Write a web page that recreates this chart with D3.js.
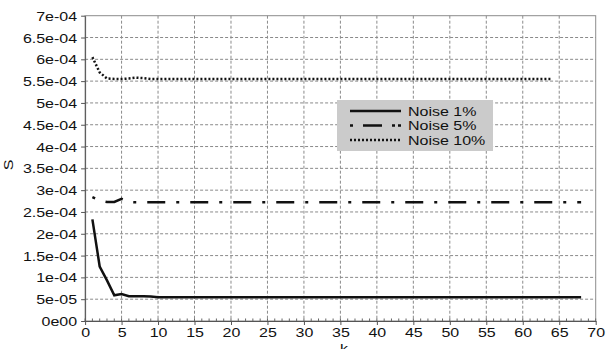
<!DOCTYPE html>
<html lang="en">
<head>
<meta charset="UTF-8">
<title>S vs k</title>
<style>
body { margin: 0; background: #fff; }
text { font-family: "Liberation Sans", Arial, sans-serif; fill: #111; }
.grid line { stroke: #8a8a8a; stroke-width: 1; stroke-dasharray: 3,2; }
.series { fill: none; stroke: #111; }
</style>
</head>
<body>
<script src="https://cdn.jsdelivr.net/npm/d3@7"></script>
<script>
// values of S are in units of 1e-4
var kNoise1 = [1,2,3,4,5,6,7,8,9,10,11,12,13,14,15,16,17,18,19,20,21,22,23,24,25,26,27,28,29,30,31,32,33,34,35,36,37,38,39,40,41,42,43,44,45,46,47,48,49,50,51,52,53,54,55,56,57,58,59,60,61,62,63,64,65,66,67,68];
var sNoise1 = [2.33,1.25,0.93,0.59,0.62,0.57,0.565,0.565,0.56,0.545,0.545,0.545,0.545,0.545,0.545,0.545,0.545,0.545,0.545,0.545,0.545,0.545,0.545,0.545,0.545,0.545,0.545,0.545,0.545,0.545,0.545,0.545,0.545,0.545,0.545,0.545,0.545,0.545,0.545,0.545,0.545,0.545,0.545,0.545,0.545,0.545,0.545,0.545,0.545,0.545,0.545,0.545,0.545,0.545,0.545,0.545,0.545,0.545,0.545,0.545,0.545,0.545,0.545,0.545,0.545,0.545,0.545,0.545];
var kNoise5 = [1,2,3,4,5,6,7,8,9,10,11,12,13,14,15,16,17,18,19,20,21,22,23,24,25,26,27,28,29,30,31,32,33,34,35,36,37,38,39,40,41,42,43,44,45,46,47,48,49,50,51,52,53,54,55,56,57,58,59,60,61,62,63,64,65,66,67,68];
var sNoise5 = [2.84,2.76,2.73,2.73,2.80,2.73,2.72,2.72,2.72,2.72,2.72,2.72,2.72,2.72,2.72,2.72,2.72,2.72,2.72,2.72,2.72,2.72,2.72,2.72,2.72,2.72,2.72,2.72,2.72,2.72,2.72,2.72,2.72,2.72,2.72,2.72,2.72,2.72,2.72,2.72,2.72,2.72,2.72,2.72,2.72,2.72,2.72,2.72,2.72,2.72,2.72,2.72,2.72,2.72,2.72,2.72,2.72,2.72,2.72,2.72,2.72,2.72,2.72,2.72,2.72,2.72,2.72,2.72];
var kNoise10 = [1,2,3,4,5,6,7,8,9,10,11,12,13,14,15,16,17,18,19,20,21,22,23,24,25,26,27,28,29,30,31,32,33,34,35,36,37,38,39,40,41,42,43,44,45,46,47,48,49,50,51,52,53,54,55,56,57,58,59,60,61,62,63,64];
var sNoise10 = [6.05,5.70,5.56,5.55,5.55,5.56,5.58,5.57,5.55,5.55,5.55,5.55,5.55,5.55,5.55,5.55,5.55,5.55,5.55,5.55,5.55,5.55,5.55,5.55,5.55,5.55,5.55,5.55,5.55,5.55,5.55,5.55,5.55,5.55,5.55,5.55,5.55,5.55,5.55,5.55,5.55,5.55,5.55,5.55,5.55,5.55,5.55,5.55,5.55,5.55,5.55,5.55,5.55,5.55,5.55,5.55,5.55,5.55,5.55,5.55,5.55,5.55,5.55,5.55];

var xTicks = [0,5,10,15,20,25,30,35,40,45,50,55,60,65,70];
var yTicks = [0,0.5,1,1.5,2,2.5,3,3.5,4,4.5,5,5.5,6,6.5,7];
var yTickLabels = ["0e00","5e-05","1e-04","1.5e-04","2e-04","2.5e-04","3e-04","3.5e-04","4e-04","4.5e-04","5e-04","5.5e-04","6e-04","6.5e-04","7e-04"];
var seriesNames = ["Noise 1%", "Noise 5%", "Noise 10%"];

var width = 611, height = 349;
var margin = {top: 15.7, right: 15.3, bottom: 28, left: 85.1};
var sx = 1.25; // text in the source is stretched horizontally

var svg = d3.select("body").append("svg")
  .attr("width", width).attr("height", height);
var g = svg.append("g").attr("transform", "translate(" + margin.left + "," + margin.top + ")");
var w = width - margin.left - margin.right, h = height - margin.top - margin.bottom;

var x = d3.scaleLinear().domain([0, 70]).range([0, w]);
var y = d3.scaleLinear().domain([0, 7]).range([h, 0]);

// grid
var grid = g.append("g").attr("class", "grid");
grid.selectAll("line.gx").data(xTicks.slice(1, -1)).enter().append("line")
  .attr("x1", d => x(d)).attr("x2", d => x(d)).attr("y1", 0).attr("y2", h);
grid.selectAll("line.gy").data(yTicks.slice(1, -1)).enter().append("line")
  .attr("y1", d => y(d)).attr("y2", d => y(d)).attr("x1", 0).attr("x2", w);

// frame
g.append("rect").attr("width", w).attr("height", h)
  .attr("fill", "none").attr("stroke", "#8c8c8c").attr("stroke-width", 1);

// minor ticks along bottom
g.append("g").selectAll("line").data(d3.range(0, 71)).enter().append("line")
  .attr("x1", d => x(d)).attr("x2", d => x(d)).attr("y1", h).attr("y2", h - 2.5)
  .attr("stroke", "#666");

// axes
var xAxis = g.append("g").attr("transform", "translate(0," + h + ")")
  .call(d3.axisBottom(x).tickValues(xTicks).tickSize(4).tickPadding(3).tickSizeOuter(0));
var yAxis = g.append("g")
  .call(d3.axisLeft(y).tickValues(yTicks).tickSize(4).tickFormat((d, i) => yTickLabels[i]).tickSizeOuter(0));
[xAxis, yAxis].forEach(a => {
  a.select(".domain").attr("stroke", "#555");
  a.selectAll(".tick line").attr("stroke", "#555");
  a.selectAll("text").attr("font-size", 12.8).attr("fill", "#111")
    .style("font-family", "'Liberation Sans', Arial, sans-serif");
});
yAxis.selectAll("text").attr("x", -8 / sx).attr("dy", "0.36em").attr("transform", "scale(" + sx + ",1)");
xAxis.selectAll("text").attr("dy", "0.72em").attr("transform", "scale(" + sx + ",1)");
xAxis.selectAll(".tick text").attr("x", 0);

// axis titles
svg.append("text").attr("transform", "translate(13,165) rotate(-90) scale(" + sx + ",1)")
  .attr("text-anchor", "middle").attr("font-size", 12.8).text("S");
svg.append("text").attr("transform", "translate(" + (margin.left + x(35.5)) + ",353) scale(" + sx + ",1)")
  .attr("text-anchor", "middle").attr("font-size", 12.8).text("k");

// series
var line = d3.line().x(d => x(d[0])).y(d => y(d[1]));
var styles = [
  {w: 2.5, dash: null},
  {w: 2.5, dash: "3,11,18,11"},
  {w: 2.5, dash: "2,2"}
];
var series = [
  d3.zip(kNoise1, sNoise1),
  d3.zip(kNoise5, sNoise5),
  d3.zip(kNoise10, sNoise10)
];
series.forEach((s, i) => {
  g.append("path").datum(s).attr("class", "series")
    .attr("d", line).attr("stroke-width", styles[i].w)
    .attr("stroke-dasharray", styles[i].dash);
});

// legend
var lg = svg.append("g").attr("transform", "translate(337,100)");
lg.append("rect").attr("width", 156).attr("height", 51).attr("fill", "#cbcbcb");
seriesNames.forEach((name, i) => {
  var yy = 11 + i * 14.5;
  lg.append("line").attr("x1", 13).attr("x2", 64).attr("y1", yy).attr("y2", yy)
    .attr("stroke", "#111").attr("stroke-width", styles[i].w)
    .attr("stroke-dasharray", i == 1 ? "3,10,19,10,3" : styles[i].dash);
  lg.append("text").attr("transform", "translate(71," + (yy + 4.5) + ") scale(" + sx + ",1)")
    .attr("font-size", 12.8).text(name);
});
</script>
</body>
</html>
